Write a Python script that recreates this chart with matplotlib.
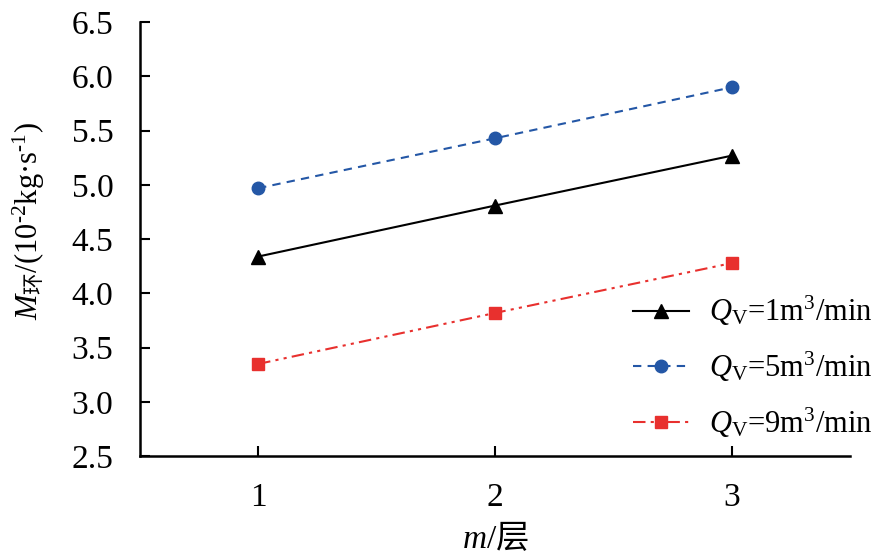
import matplotlib.pyplot as plt

plt.rcParams['font.family'] = ['Liberation Serif', 'Noto Sans CJK SC']
plt.rcParams['mathtext.fontset'] = 'custom'
plt.rcParams['mathtext.rm'] = 'Liberation Serif'
plt.rcParams['mathtext.it'] = 'Liberation Serif:italic'
plt.rcParams['mathtext.sf'] = 'Noto Sans CJK SC'

layers = [1, 2, 3]
q1 = [4.34, 4.81, 5.27]
q5 = [4.97, 5.43, 5.90]
q9 = [3.35, 3.82, 4.28]
labels = [r'$Q_\mathrm{V}$=1m$^3$/min', r'$Q_\mathrm{V}$=5m$^3$/min', r'$Q_\mathrm{V}$=9m$^3$/min']

fig = plt.figure(figsize=(8.73, 5.55), dpi=100)
ax = fig.add_axes([0.160, 0.178, 0.814, 0.782])

ax.plot(layers, q1, color='black', lw=1.5, ls='-', marker='^', ms=10, label=labels[0])
ax.plot(layers, q5, color='#2457a6', lw=1.5, ls=(0, (4, 3)), marker='o', ms=9, label=labels[1])
ax.plot(layers, q9, color='#e8302e', lw=1.5, ls=(0, (6, 2.5, 1.5, 2.5, 1.5, 2.5)), marker='s', ms=8, label=labels[2])

ax.set_xlim(0.5, 3.5)
ax.set_ylim(2.5, 6.5)
ax.set_xticks(layers)
ax.set_yticks([2.5, 3.0, 3.5, 4.0, 4.5, 5.0, 5.5, 6.0, 6.5])
ax.set_yticklabels(['2.5', '3.0', '3.5', '4.0', '4.5', '5.0', '5.5', '6.0', '6.5'])
ax.tick_params(direction='in', length=7, width=1.5, labelsize=24)
ax.tick_params(axis='x', pad=19)
ax.tick_params(axis='y', pad=19)
for s in ['top', 'right']:
    ax.spines[s].set_visible(False)
for s in ['left', 'bottom']:
    ax.spines[s].set_linewidth(1.8)

ax.set_xlabel(r'$m$/$\mathsf{层}$', fontsize=24, labelpad=6)
ax.set_ylabel(r'$M_\mathsf{环}$/(10$^{\text{-}2}$kg·s$^{\text{-}1}$)', fontsize=22)
ax.yaxis.set_label_coords(-0.131, 0.541)

ax.legend(loc='lower right', bbox_to_anchor=(1.07, -0.025), frameon=False, fontsize=22,
          handlelength=1.85, handletextpad=0.65, labelspacing=0.7)

fig.savefig('out.png', dpi=100)
